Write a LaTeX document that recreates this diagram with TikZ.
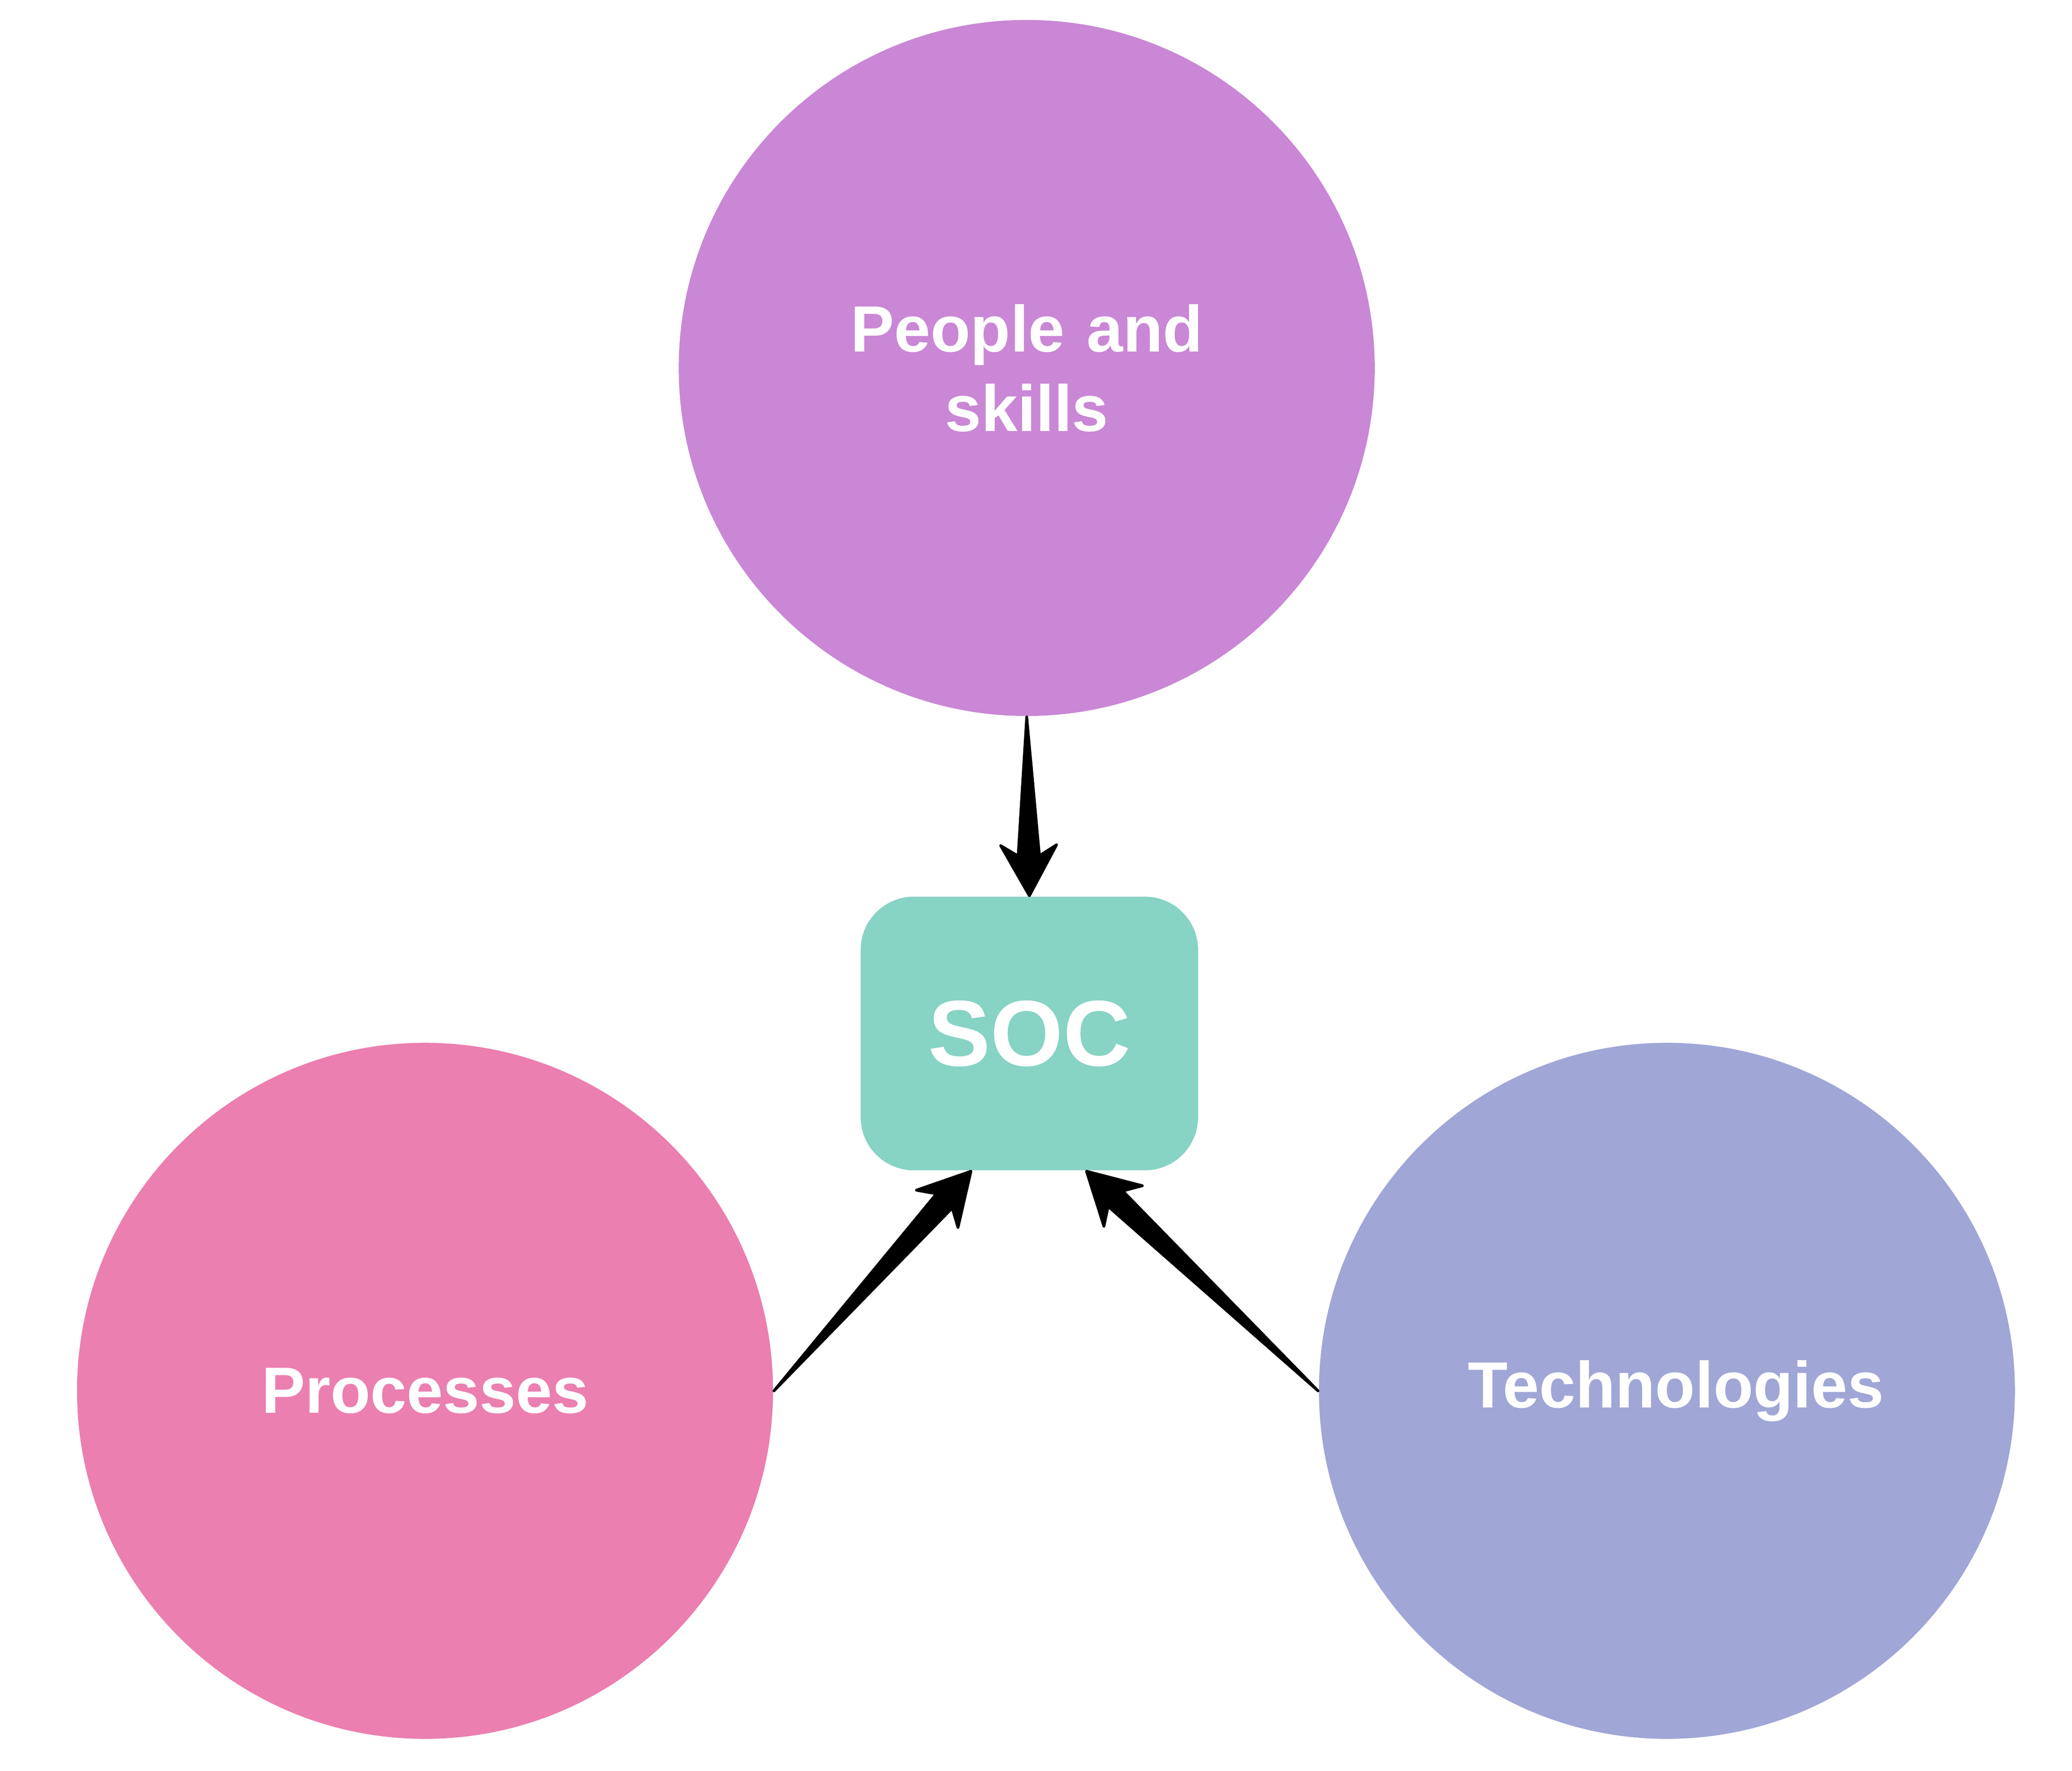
\documentclass[tikz,border=0pt]{standalone}
\usepackage{fontspec}
\setmainfont{Liberation Sans}
\usetikzlibrary{positioning,calc}

\definecolor{peoplecol}{HTML}{C987D5}
\definecolor{proccol}{HTML}{EB7FAF}
\definecolor{techcol}{HTML}{A0A6D6}
\definecolor{soccol}{HTML}{87D3C4}

\tikzset{
    pillar/.style={circle, minimum size=5.24cm, inner sep=0pt, text=white,
        font=\fontsize{14}{17}\selectfont\bfseries, align=center, text width=3cm},
    socbox/.style={rounded corners=0.4cm, minimum width=2.54cm, minimum height=2.06cm,
        fill=soccol, text=white, font=\fontsize{20}{24}\selectfont\bfseries},
}

% tapered arrow from #1 to #2
\newcommand{\wedgearrow}[2]{%
    \path ($(#2)!0.30cm!(#1)$) coordinate (notch)
          ($(#2)!0.38cm!(#1)$) coordinate (barb);
    \filldraw[line width=0.6pt, line join=round] (#1)
        -- ($(notch)!0.08cm!90:(#1)$) -- ($(barb)!0.21cm!90:(#1)$)
        -- (#2)
        -- ($(barb)!0.21cm!-90:(#1)$) -- ($(notch)!0.08cm!-90:(#1)$) -- cycle;
}

\begin{document}
\begin{tikzpicture}
    \useasboundingbox (0,0) rectangle (15.6,-13.33);

    \node[pillar, fill=peoplecol] (people) at (7.73,-2.77) {People and\\skills};
    \node[pillar, fill=proccol] (proc) at (3.20,-10.47) {Processes};
    \node[pillar, fill=techcol] (tech) at (12.55,-10.47) {Technologies};
    \node[socbox] (soc) at (7.75,-7.78) {SOC};

    \coordinate (socL) at ($(soc.south)+(-0.44,0)$);
    \coordinate (socR) at ($(soc.south)+(0.43,0)$);

    \wedgearrow{people.south}{soc.north}
    \wedgearrow{proc.east}{socL}
    \wedgearrow{tech.west}{socR}
\end{tikzpicture}
\end{document}
